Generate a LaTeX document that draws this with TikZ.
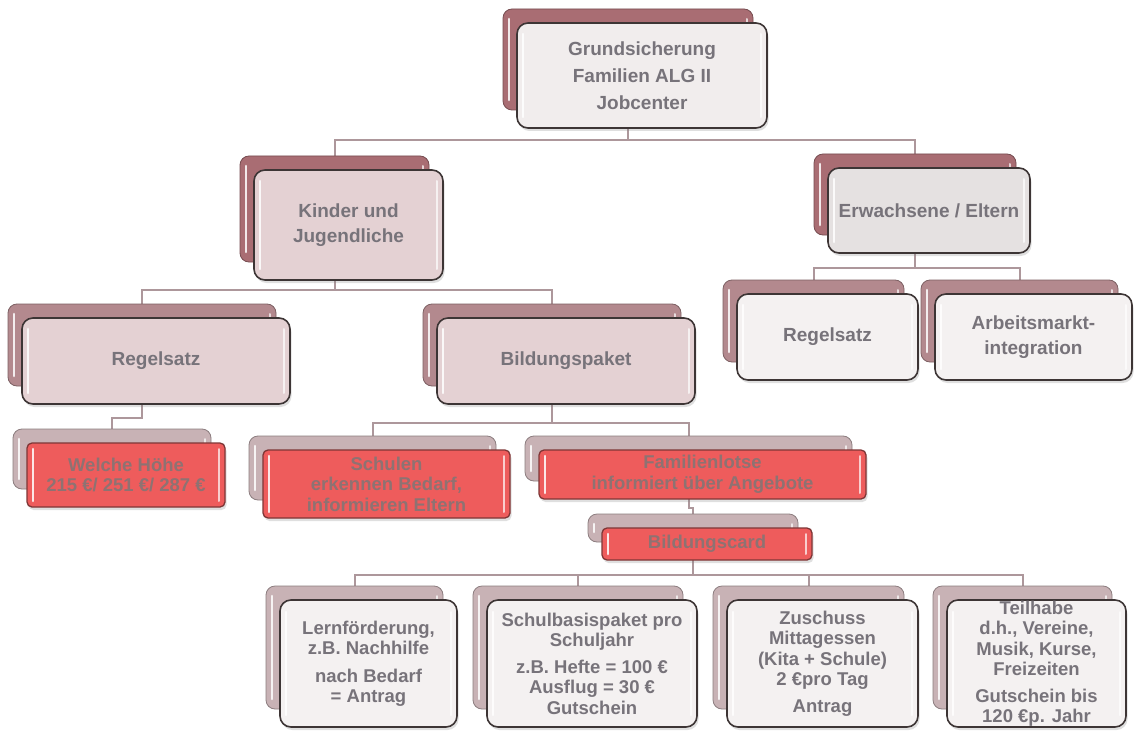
\documentclass[tikz,border=0pt]{standalone}
\usepackage{fontspec}
\setmainfont{Liberation Sans}
\usetikzlibrary{shadows}
\pgfdeclarelayer{bg}
\pgfsetlayers{bg,main}
\definecolor{backA}{HTML}{A96D73}
\definecolor{backB}{HTML}{B3898E}
\definecolor{backC}{HTML}{C8B2B5}
\definecolor{fTop}{HTML}{F1EDED}
\definecolor{fPink}{HTML}{E4D1D3}
\definecolor{fGray}{HTML}{E5E1E1}
\definecolor{fWhite}{HTML}{F4F1F1}
\definecolor{fRed}{HTML}{EE5C5C}
\definecolor{edge}{HTML}{3D3535}
\definecolor{redEdge}{HTML}{7E3636}
\definecolor{txt}{HTML}{77737A}
\definecolor{redTxt}{HTML}{8E7272}
\definecolor{connc}{HTML}{AD979B}
\tikzset{
  gloss/.style={path picture={
    \draw[white,opacity=.85,line width=2.6pt,line cap=round]
      ([xshift=6pt,yshift=-#1]path picture bounding box.north west) --
      ([xshift=6pt,yshift=#1]path picture bounding box.south west);
    \draw[white,opacity=.7,line width=2pt,line cap=round]
      ([xshift=-6pt,yshift=-#1]path picture bounding box.north east) --
      ([xshift=-6pt,yshift=#1]path picture bounding box.south east);}},
  backbox/.style={draw=#1!70!black, fill=#1, line width=0.8pt,
    rounded corners=9pt, inner sep=0pt, gloss=10pt},
  frontbase/.style={line width=1.6pt, rounded corners=11pt, inner sep=0pt,
    align=center, font=\bfseries\fontsize{18.5}{20.5}\selectfont,
    drop shadow={shadow xshift=1.5pt, shadow yshift=-3pt, opacity=.25}},
  fronttop/.style={frontbase, draw=edge, fill=fTop, text=txt, gloss=11pt,
    font=\bfseries\fontsize{19}{27}\selectfont},
  frontpink/.style={frontbase, draw=edge, fill=fPink, text=txt, gloss=11pt,
    font=\bfseries\fontsize{19}{25}\selectfont},
  frontgray/.style={frontbase, draw=edge, fill=fGray, text=txt, gloss=11pt,
    font=\bfseries\fontsize{19}{25}\selectfont},
  frontwhite/.style={frontbase, draw=edge, fill=fWhite, text=txt, gloss=11pt,
    font=\bfseries\fontsize{19}{25}\selectfont},
  frontsmall/.style={frontbase, draw=edge, fill=fWhite, text=txt, gloss=12pt},
  frontred/.style={frontbase, draw=redEdge, fill=fRed, text=redTxt, gloss=6pt,
    line width=1.3pt, rounded corners=5pt},
  conn/.style={draw=connc, line width=2pt},
}
\newcommand\card[8]{%
  \node[backbox=#2, minimum width={#5-#3}, minimum height={#6-#4-4}]
    (#1b) at ({(#3+#5)/2-14},{(#4+#6)/2-16}) {};
  \node[#7, minimum width={#5-#3}, minimum height={#6-#4}]
    (#1) at ({(#3+#5)/2},{(#4+#6)/2}) {#8};
}
\begin{document}
\begin{tikzpicture}[x=1pt,y=-1pt]
\useasboundingbox (0,0) rectangle (1134,754);
% cards
\card{top}{backA}{517}{23}{767}{128}{fronttop}{Grundsicherung\\Familien ALG II\\Jobcenter}
\card{kind}{backA}{254}{170}{443}{280}{frontpink}{Kinder und\\Jugendliche}
\card{erw}{backA}{828}{168}{1030}{253}{frontgray}{Erwachsene / Eltern}
\card{regR}{backB}{737}{294}{918}{380}{frontwhite}{Regelsatz}
\card{arb}{backB}{935}{294}{1132}{380}{frontwhite}{Arbeitsmarkt-\\integration}
\card{regL}{backB}{22}{318}{290}{404}{frontpink}{Regelsatz}
\card{bild}{backB}{437}{318}{695}{404}{frontpink}{Bildungspaket}
\card{hoehe}{backC}{27}{443}{225}{507}{frontred}{\fontsize{18.5}{26}\selectfont Welche Höhe\\215 €/ 251 €/ 287 €}
\card{schul}{backC}{263}{450}{510}{518}{frontred}{Schulen\\erkennen Bedarf,\\informieren Eltern}
\card{lotse}{backC}{539}{450}{866}{499}{frontred}{Familienlotse\\informiert über Angebote}
\card{bcard}{backC}{602}{528}{812}{560}{frontred}{Bildungscard}
\card{bA}{backC}{280}{600}{457}{727}{frontsmall}{Lernförderung,\\z.B. Nachhilfe\\[7pt]nach Bedarf\\= Antrag}
\card{bB}{backC}{487}{600}{697}{727}{frontsmall}{Schulbasispaket pro\\Schuljahr\\[6pt]z.B. Hefte = 100 €\\Ausflug = 30 €\\Gutschein}
\card{bC}{backC}{727}{600}{918}{727}{frontsmall}{Zuschuss\\Mittagessen\\(Kita + Schule)\\2 €pro Tag\\[6pt]Antrag}
\card{bD}{backC}{947}{600}{1126}{727}{frontsmall}{Teilhabe\\d.h., Vereine,\\Musik, Kurse,\\Freizeiten\\[6pt]Gutschein bis\\120 €p. Jahr}
% junction levels
\coordinate (j1) at (0,140);
\coordinate (j2) at (0,290);
\coordinate (j3) at (0,268);
\coordinate (j4) at (0,418);
\coordinate (j5) at (0,423);
\coordinate (j6) at (0,508);
\coordinate (j7) at (0,575);
\begin{pgfonlayer}{bg}
\fill[white] (0,0) rectangle (1134,754);
\draw[conn] (topb.south) -- (topb.south |- j1);
\draw[conn] (kindb.north) -- (kindb.north |- j1) -- (erwb.north |- j1) -- (erwb.north);
\draw[conn] (kindb.south) -- (kindb.south |- j2);
\draw[conn] (regLb.north) -- (regLb.north |- j2) -- (bildb.north |- j2) -- (bildb.north);
\draw[conn] (erwb.south) -- (erwb.south |- j3);
\draw[conn] (regRb.north) -- (regRb.north |- j3) -- (arbb.north |- j3) -- (arbb.north);
\draw[conn] (regLb.south) -- (regLb.south |- j4) -| (hoeheb.north);
\draw[conn] (bildb.south) -- (bildb.south |- j5);
\draw[conn] (schulb.north) -- (schulb.north |- j5) -- (lotseb.north |- j5) -- (lotseb.north);
\draw[conn] (lotseb.south) -- (lotseb.south |- j6) -| (bcardb.north);
\draw[conn] (bcardb.south) -- (bcardb.south |- j7);
\draw[conn] (bAb.north) -- (bAb.north |- j7) -- (bDb.north |- j7) -- (bDb.north);
\draw[conn] (bBb.north) -- (bBb.north |- j7);
\draw[conn] (bCb.north) -- (bCb.north |- j7);
\end{pgfonlayer}
\end{tikzpicture}
\end{document}
